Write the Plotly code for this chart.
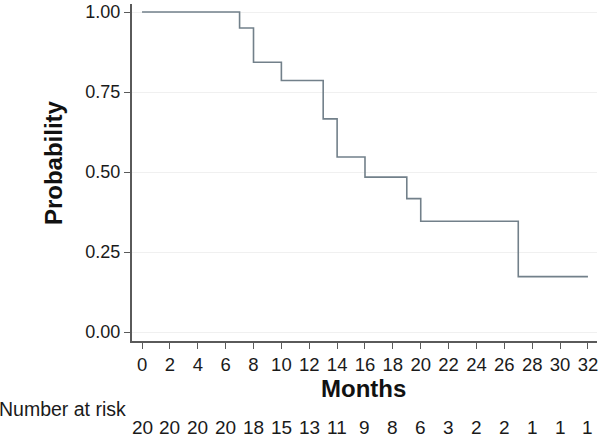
import plotly.graph_objects as go

# Kaplan-Meier step data
months = [0, 7, 8, 10, 13, 14, 16, 19, 20, 27, 32]
survival = [1.00, 0.950, 0.843, 0.786, 0.666, 0.547, 0.484, 0.417, 0.346, 0.173, 0.173]

x_ticks = list(range(0, 33, 2))
y_ticks = [0.00, 0.25, 0.50, 0.75, 1.00]
y_tick_labels = ["0.00", "0.25", "0.50", "0.75", "1.00"]
at_risk = [20, 20, 20, 20, 18, 15, 13, 11, 9, 8, 6, 3, 2, 2, 1, 1, 1]

FONT = "Liberation Sans, Arial, sans-serif"
AXIS_COL = "#5a5a5a"

fig = go.Figure()
fig.add_trace(go.Scatter(
    x=months, y=survival, mode="lines",
    line=dict(shape="hv", color="#72808a", width=1.6),
    showlegend=False, hoverinfo="skip",
))

W, H = 600, 438
L, R, T, B = 132, 3, 2, 97
plot_h = H - T - B
plot_w = W - L - R

fig.update_layout(
    width=W, height=H,
    margin=dict(l=L, r=R, t=T, b=B),
    paper_bgcolor="white", plot_bgcolor="white",
    font=dict(family=FONT, color="#1a1a1a", size=18),
    xaxis=dict(
        range=[-0.72, 32.65], tickvals=x_ticks, ticktext=[str(v) for v in x_ticks],
        showline=True, linecolor=AXIS_COL, linewidth=2,
        ticks="outside", ticklen=6, tickwidth=1.3, tickcolor=AXIS_COL,
        showgrid=False, zeroline=False,
        tickfont=dict(size=18.5, family=FONT, color="#1a1a1a"),
    ),
    yaxis=dict(
        range=[-0.028, 1.025], tickvals=y_ticks, ticktext=y_tick_labels,
        showline=True, linecolor=AXIS_COL, linewidth=2,
        ticks="outside", ticklen=6, tickwidth=1.3, tickcolor=AXIS_COL,
        showgrid=True, gridcolor="#f0f0f0", gridwidth=1,
        zeroline=False,
        tickfont=dict(size=18, family=FONT, color="#1a1a1a"),
    ),
)

def py(pix):
    return (H - B - pix) / plot_h

def px(pix):
    return (pix - L) / plot_w

fig.add_annotation(text="<b>Months</b>", x=px(363), xref="paper", y=py(389),
                   yref="paper", showarrow=False, font=dict(size=24, family=FONT, color="#111"),
                   xanchor="center", yanchor="middle")

fig.add_annotation(text="<b>Probability</b>", x=px(53), xref="paper",
                   y=py(162), yref="paper", textangle=-90, showarrow=False,
                   font=dict(size=24, family=FONT, color="#111"),
                   xanchor="center", yanchor="middle")

fig.add_annotation(text="Number at risk", x=px(-3), xref="paper",
                   y=py(409), yref="paper", showarrow=False, xanchor="left", yanchor="middle",
                   font=dict(size=19.5, family=FONT, color="#1a1a1a"))

for xv, n in zip(x_ticks, at_risk):
    fig.add_annotation(text=str(n), x=xv, xref="x", y=py(428), yref="paper",
                       showarrow=False, xanchor="center", yanchor="middle",
                       font=dict(size=19, family=FONT, color="#1a1a1a"))

fig.write_html("out.html", config={"displayModeBar": False},
               post_script="document.body.style.margin='0';document.body.style.overflow='hidden';")
